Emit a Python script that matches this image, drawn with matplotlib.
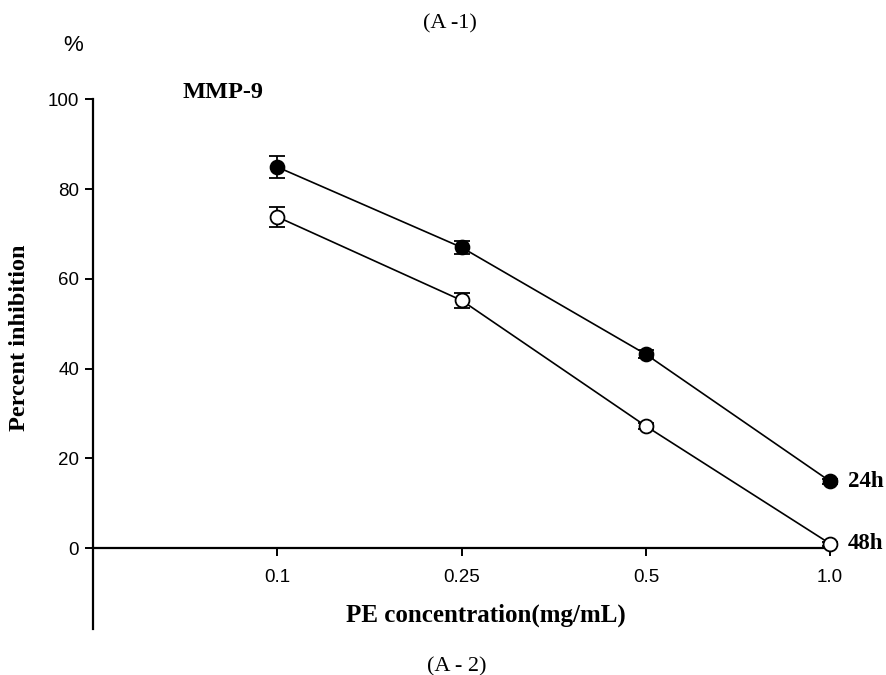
import numpy as np
import matplotlib.pyplot as plt

# Данные
conc_labels = ['0.1', '0.25', '0.5', '1.0']
inhib_24h = [84.9, 67.0, 43.2, 14.9]
err_24h = [2.4, 1.4, 0.9, 0.5]
inhib_48h = [73.8, 55.2, 27.2, 1.0]
err_48h = [2.2, 1.6, 0.6, 0.5]

x = np.arange(1, len(conc_labels) + 1)

fig = plt.figure(figsize=(8.86, 6.75), dpi=100)
ax = fig.add_axes([0.105, 0.068, 0.832, 0.785])

# Линии с погрешностями
ax.errorbar(x, inhib_24h, yerr=err_24h, color='black', lw=1.2, marker='o',
            markersize=10, markerfacecolor='black', markeredgecolor='black',
            markeredgewidth=1.3, capsize=6, capthick=1.3, elinewidth=1.3,
            clip_on=False, zorder=3)
ax.errorbar(x, inhib_48h, yerr=err_48h, color='black', lw=1.2, marker='o',
            markersize=10, markerfacecolor='white', markeredgecolor='black',
            markeredgewidth=1.3, capsize=6, capthick=1.3, elinewidth=1.3,
            clip_on=False, zorder=3)

ax.set_xlim(0, 4)
ax.set_ylim(-18, 100)

# Оси
ax.spines['top'].set_visible(False)
ax.spines['right'].set_visible(False)
ax.spines['bottom'].set_position(('data', 0))
ax.spines['left'].set_linewidth(1.6)
ax.spines['bottom'].set_linewidth(1.6)

ax.set_yticks([0, 20, 40, 60, 80, 100])
ax.set_xticks(x)
ax.set_xticklabels(conc_labels)
ax.tick_params(axis='y', direction='out', length=6, width=1.4, labelsize=13.5, pad=4)
ax.tick_params(axis='x', direction='out', length=6, width=1.4, labelsize=13.5, pad=9)
for lbl in ax.get_xticklabels() + ax.get_yticklabels():
    lbl.set_family('Liberation Sans')

# Подписи
serif = 'Liberation Serif'
ax.text(-0.109, 112, '%', fontsize=16, family='Liberation Sans', ha='center', va='center')
ax.text(0.483, 101.5, 'MMP-9', fontsize=17.5, family=serif, fontweight='bold',
        ha='left', va='center')
ax.text(4.095, inhib_24h[-1], '24h', fontsize=16.5, family=serif, fontweight='bold',
        ha='left', va='center')
ax.text(4.095, inhib_48h[-1], '48h', fontsize=16.5, family=serif, fontweight='bold',
        ha='left', va='center')

fig.text(0.022, 0.499, 'Percent inhibition', rotation=90, fontsize=17.5, family=serif,
         fontweight='bold', ha='center', va='center')
fig.text(0.548, 0.089, 'PE concentration(mg/mL)', fontsize=18, family=serif,
         fontweight='bold', ha='center', va='center')
fig.text(0.508, 0.964, '(A -1)', fontsize=16, family=serif, ha='center', va='center')
fig.text(0.516, 0.012, '(A - 2)', fontsize=16, family=serif, ha='center', va='center')

fig.savefig('out.png', dpi=100)
